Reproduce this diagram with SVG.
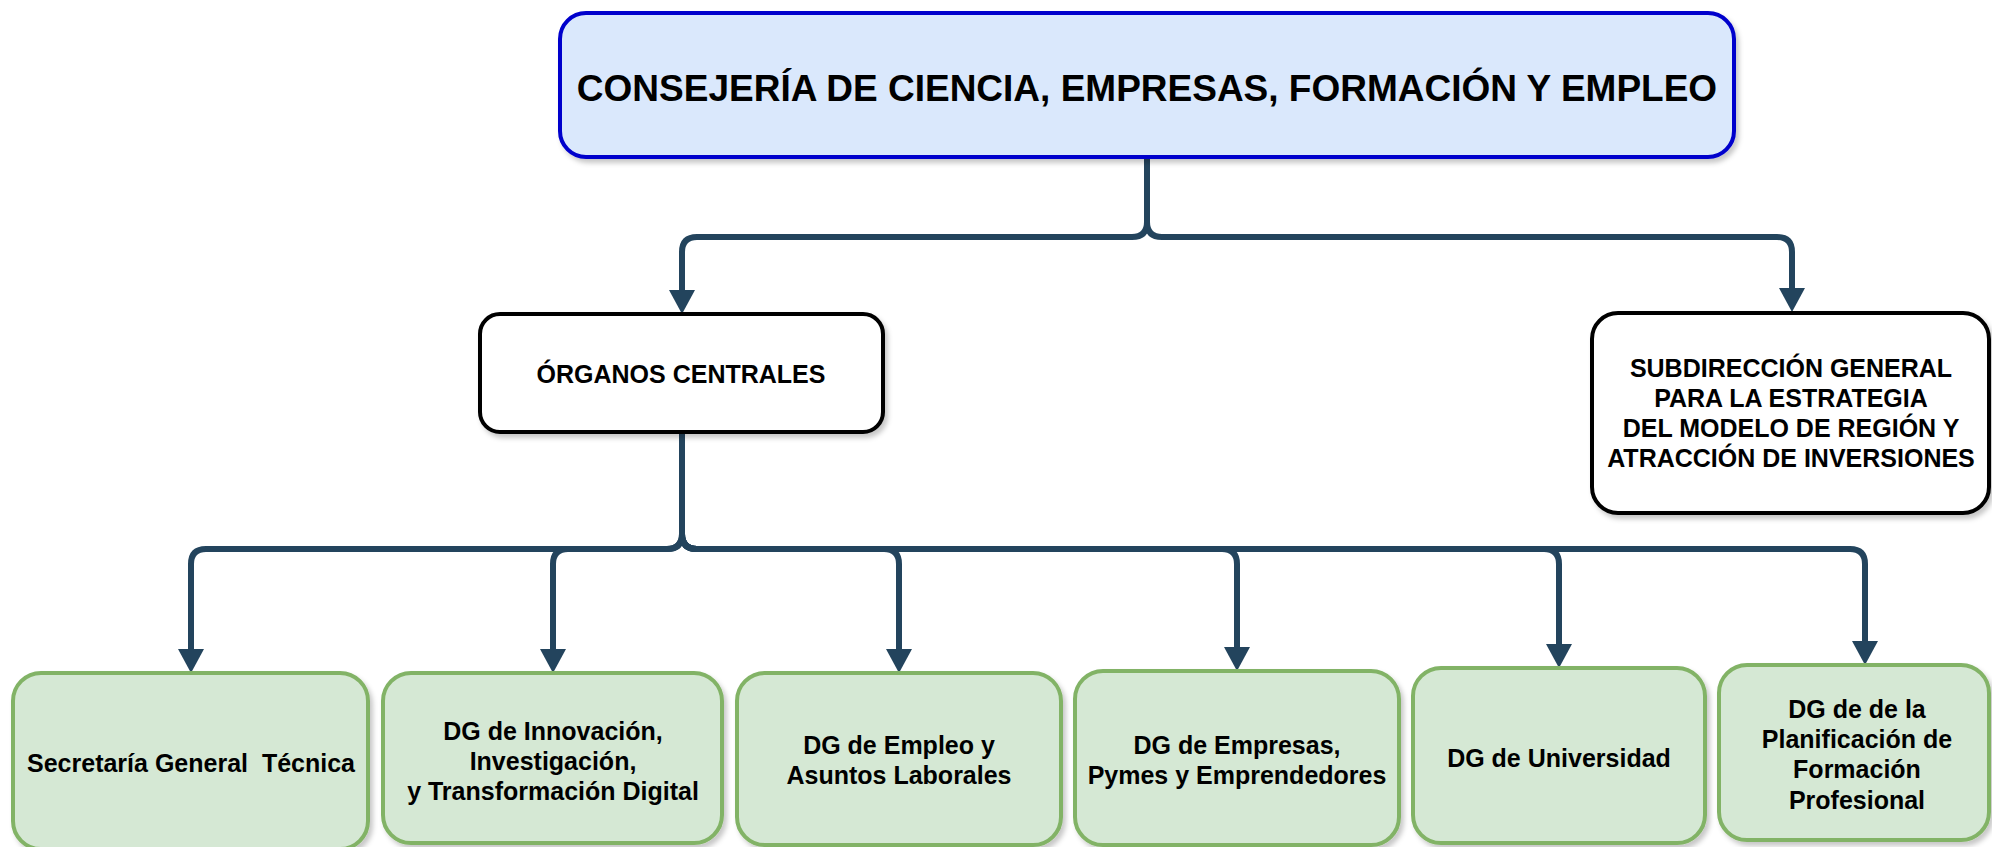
<svg xmlns="http://www.w3.org/2000/svg" width="1992" height="847" viewBox="0 0 1992 847">
<defs>
<filter id="sh" x="-10%" y="-10%" width="120%" height="130%">
<feDropShadow dx="3" dy="4" stdDeviation="2.5" flood-color="#000" flood-opacity="0.22"/>
</filter>
<marker id="arr" viewBox="0 0 24 26" markerWidth="24" markerHeight="26" refX="0" refY="13" orient="auto" markerUnits="userSpaceOnUse">
<path d="M0,0 L24,13 L0,26 z" fill="#23445d"/>
</marker>
<style>
.top{fill:#dae8fc;stroke:#0000cc;stroke-width:4;filter:url(#sh)}
.wht{fill:#ffffff;stroke:#000000;stroke-width:4;filter:url(#sh)}
.grn{fill:#d5e8d4;stroke:#82b366;stroke-width:4;filter:url(#sh)}
.con{fill:none;stroke:#23445d;stroke-width:6;marker-end:url(#arr)}
text{font-family:"Liberation Sans",Arial,sans-serif;font-weight:bold;fill:#000;text-anchor:middle}
.t1{font-size:37px}
.t2{font-size:25px}
</style>
</defs>
<g id="connectors">
<path class="con" d="M1147,157 V222 Q1147,237 1132,237 H697 Q682,237 682,252 V290"/>
<path class="con" d="M1147,157 V222 Q1147,237 1162,237 H1777 Q1792,237 1792,252 V288"/>
<path class="con" d="M682,432 V534 Q682,549 667,549 H206 Q191,549 191,564 V649"/>
<path class="con" d="M682,432 V534 Q682,549 667,549 H568 Q553,549 553,564 V649"/>
<path class="con" d="M682,432 V534 Q682,549 697,549 H884 Q899,549 899,564 V649"/>
<path class="con" d="M682,432 V534 Q682,549 697,549 H1222 Q1237,549 1237,564 V647"/>
<path class="con" d="M682,432 V534 Q682,549 697,549 H1544 Q1559,549 1559,564 V644"/>
<path class="con" d="M682,432 V534 Q682,549 697,549 H1850 Q1865,549 1865,564 V641"/>
</g>
<g id="consejeria">
<rect class="top" x="560" y="13" width="1174" height="144" rx="26" ry="26"/>
<text class="t1" x="1147" y="101">CONSEJERÍA DE CIENCIA, EMPRESAS, FORMACIÓN Y EMPLEO</text>
</g>
<g id="organos">
<rect class="wht" x="480" y="314" width="403" height="118" rx="20" ry="20"/>
<text class="t2" x="681" y="383">ÓRGANOS CENTRALES</text>
</g>
<g id="subdireccion">
<rect class="wht" x="1592" y="313" width="397" height="200" rx="26" ry="26"/>
<text class="t2" x="1791" y="377">SUBDIRECCIÓN GENERAL</text>
<text class="t2" x="1791" y="407">PARA LA ESTRATEGIA</text>
<text class="t2" x="1791" y="437">DEL MODELO DE REGIÓN Y</text>
<text class="t2" x="1791" y="467">ATRACCIÓN DE INVERSIONES</text>
</g>
<g id="secretaria">
<rect class="grn" x="13" y="673" width="355" height="176" rx="28" ry="28"/>
<text class="t2" x="191" y="772" xml:space="preserve">Secretaría General  Técnica</text>
</g>
<g id="innovacion">
<rect class="grn" x="383" y="673" width="339" height="170" rx="28" ry="28"/>
<text class="t2" x="553" y="740">DG de Innovación,</text>
<text class="t2" x="553" y="770">Investigación,</text>
<text class="t2" x="553" y="800">y Transformación Digital</text>
</g>
<g id="empleo">
<rect class="grn" x="737" y="673" width="324" height="172" rx="28" ry="28"/>
<text class="t2" x="899" y="754">DG de Empleo y</text>
<text class="t2" x="899" y="784">Asuntos Laborales</text>
</g>
<g id="empresas">
<rect class="grn" x="1075" y="671" width="324" height="174" rx="28" ry="28"/>
<text class="t2" x="1237" y="754">DG de Empresas,</text>
<text class="t2" x="1237" y="784">Pymes y Emprendedores</text>
</g>
<g id="universidad">
<rect class="grn" x="1413" y="668" width="292" height="175" rx="28" ry="28"/>
<text class="t2" x="1559" y="767">DG de Universidad</text>
</g>
<g id="formacion">
<rect class="grn" x="1719" y="665" width="270" height="175" rx="28" ry="28"/>
<text class="t2" x="1857" y="718">DG de de la</text>
<text class="t2" x="1857" y="748">Planificación de</text>
<text class="t2" x="1857" y="778">Formación</text>
<text class="t2" x="1857" y="809">Profesional</text>
</g>
</svg>
